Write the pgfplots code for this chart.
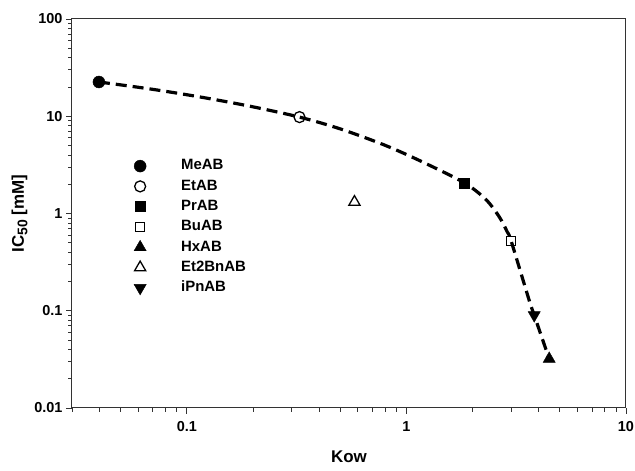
\documentclass[border=0pt]{standalone}
\usepackage{fontspec}
\setmainfont{Liberation Sans}
\usepackage{pgfplots}
\pgfplotsset{compat=1.18}

\begin{document}
\begin{tikzpicture}
\begin{axis}[
    name=ax,
    scale only axis,
    width=554bp, height=389bp,
    xmode=log, ymode=log,
    xmin=0.03, xmax=10, ymin=0.01, ymax=100,
    log ticks with fixed point,
    /pgf/number format/assume math mode=true,
    tick label style={font=\fontsize{14.5}{16}\selectfont\bfseries},
    xticklabel style={yshift=-4bp},
    tick align=outside,
    tick pos=left,
    major tick length=6bp,
    minor tick length=4bp,
    axis line style={black!80, line width=1bp},
    every tick/.style={black!80, line width=0.8bp},
    xlabel={Kow},
    ylabel={IC\raisebox{-3.5bp}{\fontsize{14}{16}\selectfont 50} [mM]},
    label style={font=\fontsize{17}{19}\selectfont\bfseries},
    xlabel style={yshift=-12bp},
    legend cell align=left,
    legend style={
        draw=none, fill=none, inner sep=0pt,
        at={(0.101,0.641)}, anchor=north west,
        font=\fontsize{15}{17}\selectfont\bfseries,
        row sep=5.8bp,
        nodes={inner sep=0pt, text height=11bp, text depth=3.5bp},
        /tikz/every odd column/.append style={column sep=3bp},
    },
    legend image code/.code={
        \path[draw=none, fill=none] (0bp,-5bp) rectangle (50bp,5bp);
        \draw[#1] plot coordinates {(12bp,0bp)};
    },
]

% dashed fit curve
\addplot[smooth, line width=3.2bp, dash pattern=on 11bp off 6bp, forget plot]
coordinates {
    (0.0398,22.5) (0.0679,19.1) (0.1146,15.8) (0.1932,12.7) (0.326,9.8)
    (0.501,7.40) (0.794,5.06) (1.158,3.47) (1.84,2.06)
    (2.31,1.38) (2.65,0.92) (2.88,0.646) (3.0,0.52) (3.62,0.129)
    (3.82,0.090) (4.47,0.032)
};

\addplot[only marks, mark=*, mark size=6bp, mark options={fill=black}]
    coordinates {(0.0398,22.5)};
\addlegendentry{MeAB}
\addplot[only marks, mark=o, mark size=5.5bp, mark options={line width=1.3bp}]
    coordinates {(0.326,9.8)};
\addlegendentry{EtAB}
\addplot[only marks, mark=square*, mark size=5bp, mark options={fill=black}]
    coordinates {(1.84,2.06)};
\addlegendentry{PrAB}
\addplot[only marks, mark=square, mark size=4.6bp, mark options={line width=1.3bp}]
    coordinates {(3.0,0.52)};
\addlegendentry{BuAB}
\addplot[only marks, mark=triangle*, mark size=7bp, mark options={fill=black}]
    coordinates {(4.47,0.032)};
\addlegendentry{HxAB}
\addplot[only marks, mark=triangle, mark size=6.5bp, mark options={line width=1.3bp}]
    coordinates {(0.58,1.31)};
\addlegendentry{Et2BnAB}
\addplot[only marks, mark=triangle*, mark size=7bp, mark options={fill=black, rotate=180}]
    coordinates {(3.82,0.090)};
\addlegendentry{iPnAB}

\end{axis}
\pgfresetboundingbox
\path[use as bounding box] ([xshift=-72bp,yshift=-63bp]ax.south west)
    rectangle ([xshift=9bp,yshift=19bp]ax.north east);
\end{tikzpicture}
\end{document}
